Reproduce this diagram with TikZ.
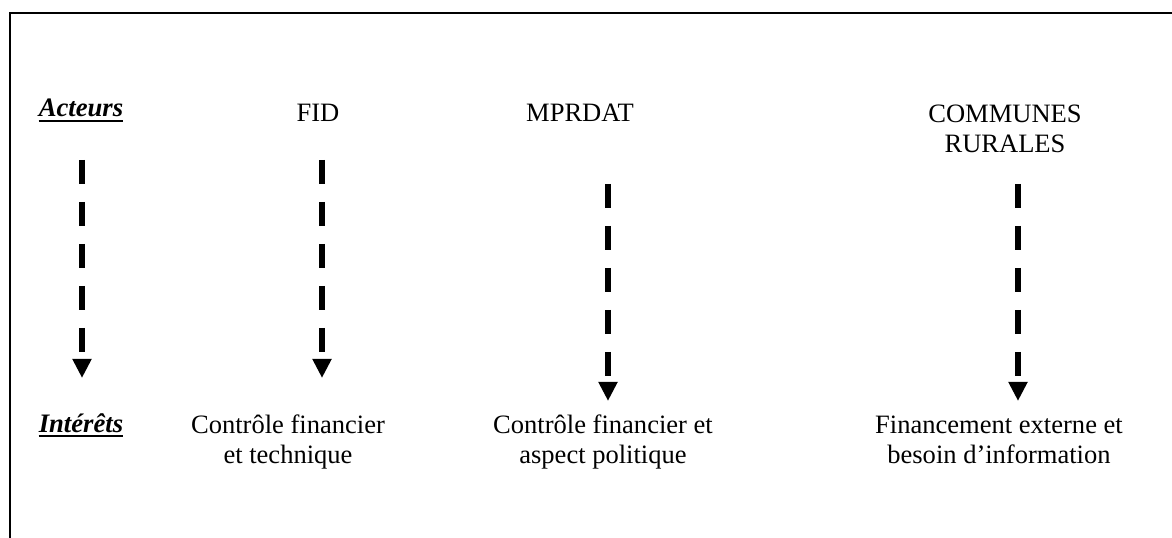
\documentclass[tikz,border=0pt]{standalone}
\usepackage{fontspec}
\setmainfont{Liberation Serif}
\usetikzlibrary{arrows.meta}
\begin{document}
\begin{tikzpicture}[x=0.75pt,y=-0.75pt,
  lbl/.style={font=\fontsize{20pt}{22.7pt}\selectfont\bfseries\itshape, inner sep=0pt, anchor=base},
  txt/.style={font=\fontsize{19.9pt}{22.7pt}\selectfont, inner sep=0pt, anchor=base, align=center},
  frame/.style={line width=1.6pt},
  uline/.style={line width=1.9pt},
  flow/.style={line width=4.9pt, dash pattern=on 18pt off 13.5pt,
     -{Triangle[width=13.5pt,length=14.25pt]}}]
\useasboundingbox (0,0) rectangle (1172,538);
% frame
\coordinate (ftl) at (10,13);
\coordinate (ftr) at (1172,13);
\coordinate (fbl) at (10,538);
\draw[frame] (fbl) -- (ftl) -- (ftr);
% labels
\node[lbl] (act) at (81,117) {Acteurs};
\node[lbl] (int) at (81,432) {Intérêts};
\draw[uline] ([yshift=-3pt]act.base west) -- ([yshift=-3pt]act.base east);
\draw[uline] ([yshift=-3pt]int.base west) -- ([yshift=-3pt]int.base east);
% actors
\node[txt] (fid) at (318,122) {FID};
\node[txt] (mpr) at (580,122) {MPRDAT};
\node[txt] (com) at (1005,153) {COMMUNES\\RURALES};
% interests
\node[txt] (i1) at (288,463.5) {Contrôle financier\\et technique};
\node[txt] (i2) at (603,463.5) {Contrôle financier et\\aspect politique};
\node[txt] (i3) at (999,463.5) {Financement externe et\\besoin d’information};
% arrows
\coordinate (s0) at (82,160);   \coordinate (e0) at (82,378);
\coordinate (s1) at (322,160);  \coordinate (e1) at (322,378);
\coordinate (s2) at (608,184);  \coordinate (e2) at (608,401);
\coordinate (s3) at (1018,184); \coordinate (e3) at (1018,401);
\draw[flow] (s0) -- (e0);
\draw[flow] (s1) -- (e1);
\draw[flow] (s2) -- (e2);
\draw[flow] (s3) -- (e3);
\end{tikzpicture}
\end{document}
